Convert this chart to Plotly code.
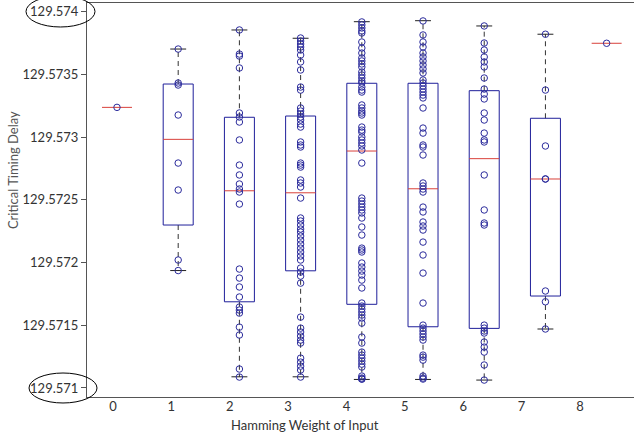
import plotly.graph_objects as go

# ---------------- data ----------------
categories = [0, 1, 2, 3, 4, 5, 6, 7, 8]
tick_labels = ["0", "1", "2", "3", "4", "5", "6", "7", "8"]
y_tick_vals = [129.571, 129.5715, 129.572, 129.5725, 129.573, 129.5735, 129.574]
y_tick_text = ["129.571", "129.5715", "129.572", "129.5725", "129.573", "129.5735", "129.574"]

# box statistics (single-sample groups have q1 = q3 = median)
q1_vals  = [129.573237, 129.572299, 129.571687, 129.571934, 129.571667, 129.571488, 129.571475, 129.571733, 129.573748]
med_vals = [129.573237, 129.572982, 129.572572, 129.572556, 129.572889, 129.572588, 129.572828, 129.572666, 129.573748]
q3_vals  = [129.573237, 129.573423, 129.573158, 129.573168, 129.573429, 129.573429, 129.573370, 129.573150, 129.573748]
lo_vals  = [129.573237, 129.571936, 129.571089, 129.571089, 129.571068, 129.571068, 129.571063, 129.571470, 129.573748]
hi_vals  = [129.573237, 129.573702, 129.573854, 129.573788, 129.573920, 129.573928, 129.573886, 129.573820, 129.573748]

g0 = [129.573237]
g1 = [129.573702, 129.573431, 129.573415, 129.573176, 129.572793, 129.572578, 129.572020, 129.571936]
g2 = [129.573854, 129.573662, 129.573646, 129.573551, 129.573192, 129.573160, 129.573120, 129.572977,
      129.572777, 129.572698, 129.572626, 129.572586, 129.572562, 129.572466, 129.571948, 129.571876,
      129.571805, 129.571725, 129.571645, 129.571621, 129.571597, 129.571485, 129.571422, 129.571151,
      129.571087]
g3 = [129.573790, 129.573766, 129.573742, 129.573718, 129.573694, 129.573654, 129.573599, 129.573535,
      129.573399, 129.573375, 129.573232, 129.573208, 129.573184, 129.573160, 129.573136, 129.573104,
      129.573080, 129.572961, 129.572937, 129.572921, 129.572793, 129.572777, 129.572761, 129.572658,
      129.572634, 129.572602, 129.572514, 129.572355, 129.572331, 129.572299, 129.572267, 129.572243,
      129.572211, 129.572179, 129.572147, 129.572115, 129.572084, 129.572052, 129.572020, 129.571956,
      129.571924, 129.571892, 129.571836, 129.571565, 129.571477, 129.571446, 129.571414, 129.571382,
      129.571358, 129.571238, 129.571206, 129.571174, 129.571143, 129.571087]
g4 = [129.573918, 129.573894, 129.573870, 129.573846, 129.573830, 129.573758, 129.573710, 129.573670,
      129.573631, 129.573607, 129.573583, 129.573559, 129.573519, 129.573495, 129.573471, 129.573447,
      129.573431, 129.573399, 129.573375, 129.573359, 129.573256, 129.573232, 129.573208, 129.573192,
      129.573176, 129.573080, 129.573056, 129.573040, 129.573001, 129.572977, 129.572953, 129.572929,
      129.572897, 129.572793, 129.572514, 129.572490, 129.572466, 129.572442, 129.572419, 129.572395,
      129.572355, 129.572283, 129.572219, 129.572115, 129.572100, 129.572084, 129.571996, 129.571964,
      129.571932, 129.571900, 129.571860, 129.571797, 129.571677, 129.571653, 129.571629, 129.571605,
      129.571581, 129.571557, 129.571517, 129.571406, 129.571358, 129.571286, 129.571262, 129.571238,
      129.571214, 129.571190, 129.571167, 129.571095, 129.571079, 129.571071, 129.571071]
g5 = [129.573926, 129.573814, 129.573758, 129.573718, 129.573670, 129.573639, 129.573607, 129.573575,
      129.573543, 129.573511, 129.573455, 129.573431, 129.573407, 129.573383, 129.573359, 129.573335,
      129.573312, 129.573232, 129.573072, 129.573032, 129.572937, 129.572921, 129.572857, 129.572634,
      129.572610, 129.572586, 129.572562, 129.572442, 129.572403, 129.572323, 129.572291, 129.572259,
      129.572163, 129.572060, 129.571916, 129.571677, 129.571501, 129.571477, 129.571454, 129.571430,
      129.571406, 129.571382, 129.571262, 129.571246, 129.571222, 129.571095, 129.571079, 129.571071]
g6 = [129.573886, 129.573750, 129.573694, 129.573639, 129.573599, 129.573559, 129.573471, 129.573383,
      129.573343, 129.573304, 129.573192, 129.573136, 129.573032, 129.572977, 129.572961, 129.572698,
      129.572419, 129.572315, 129.572299, 129.571501, 129.571477, 129.571454, 129.571438, 129.571366,
      129.571326, 129.571286, 129.571183, 129.571063]
g7 = [129.573820, 129.573375, 129.572929, 129.572666, 129.572666, 129.571773, 129.571687, 129.571470]
g8 = [129.573748]
groups = [g0, g1, g2, g3, g4, g5, g6, g7, g8]

# ---------------- styling ----------------
BOX_HALF = 0.245
CAP_HALF = 0.13
BOX_COLOR = "#1f1f9a"
MED_COLOR = "#d9403a"
PT_COLOR = "#2b2b9c"

box_x, box_y = [], []
med_x, med_y = [], []
wh_x, wh_y = [], []
cap_x, cap_y = [], []
for c, q1, md, q3, lo, hi in zip(categories, q1_vals, med_vals, q3_vals, lo_vals, hi_vals):
    med_x += [c - BOX_HALF, c + BOX_HALF, None]
    med_y += [md, md, None]
    if q3 > q1:
        box_x += [c - BOX_HALF, c + BOX_HALF, c + BOX_HALF, c - BOX_HALF, c - BOX_HALF, None]
        box_y += [q1, q1, q3, q3, q1, None]
        wh_x += [c, c, None, c, c, None]
        wh_y += [q3, hi, None, q1, lo, None]
        cap_x += [c - CAP_HALF, c + CAP_HALF, None, c - CAP_HALF, c + CAP_HALF, None]
        cap_y += [hi, hi, None, lo, lo, None]

pt_x, pt_y = [], []
for c, g in zip(categories, groups):
    pt_x += [c] * len(g)
    pt_y += g

fig = go.Figure()
fig.add_trace(go.Scatter(x=wh_x, y=wh_y, mode="lines",
                         line=dict(color="#333333", width=1, dash="5px,4px"), hoverinfo="skip"))
fig.add_trace(go.Scatter(x=cap_x, y=cap_y, mode="lines",
                         line=dict(color="#222222", width=1), hoverinfo="skip"))
fig.add_trace(go.Scatter(x=box_x, y=box_y, mode="lines",
                         line=dict(color=BOX_COLOR, width=1), hoverinfo="skip"))
fig.add_trace(go.Scatter(x=med_x, y=med_y, mode="lines",
                         line=dict(color=MED_COLOR, width=1), hoverinfo="skip"))
fig.add_trace(go.Scatter(x=pt_x, y=pt_y, mode="markers",
                         marker=dict(symbol="circle-open", size=6.5, color=PT_COLOR,
                                     line=dict(width=1, color=PT_COLOR))))

FONT = "Lato, 'Open Sans', sans-serif"

fig.update_layout(
    width=634, height=448,
    margin=dict(l=87, r=0, t=3, b=51),
    paper_bgcolor="white", plot_bgcolor="white",
    showlegend=False,
    font=dict(family=FONT, size=13, color="#333333"),
    xaxis=dict(range=[-0.490, 8.447], showgrid=False, zeroline=False,
               showticklabels=False, ticks="",
               showline=True, linecolor="#555555", linewidth=1, mirror=True),
    xaxis2=dict(overlaying="x", anchor="y", side="bottom",
                range=[-0.4454, 8.925], showgrid=False, zeroline=False, showline=False,
                tickmode="array", tickvals=categories, ticktext=tick_labels, ticks="",
                tickfont=dict(family=FONT, size=13, color="#333333")),
    yaxis=dict(range=[129.570928, 129.574069], showgrid=False, zeroline=False,
               tickmode="array", tickvals=y_tick_vals, ticktext=y_tick_text,
               ticks="outside", ticklen=5, tickcolor="#555555",
               showline=True, linecolor="#555555", linewidth=1, mirror=False,
               tickfont=dict(family=FONT, size=13, color="#333333")),
    annotations=[
        dict(text="Hamming Weight of Input", xref="paper", yref="paper",
             x=0.3985, y=-0.0711, xanchor="center", yanchor="middle", showarrow=False,
             font=dict(family=FONT, size=13, color="#333333")),
        dict(text="Critical Timing Delay", xref="paper", yref="paper",
             x=-0.1353, y=0.576, xanchor="center", yanchor="middle",
             textangle=-90, showarrow=False,
             font=dict(family=FONT, size=13, color="#555555")),
    ],
    shapes=[
        dict(type="circle", xref="paper", yref="paper",
             x0=-0.1115, x1=0.0146, y0=0.9391, y1=1.0178,
             line=dict(color="black", width=1)),
        dict(type="circle", xref="paper", yref="paper",
             x0=-0.106, x1=0.0183, y0=-0.0152, y1=0.0609,
             line=dict(color="black", width=1)),
    ],
)
# invisible trace on xaxis2 so its tick labels are rendered
fig.add_trace(go.Scatter(x=[0], y=[129.573], xaxis="x2", mode="markers",
                         marker=dict(opacity=0), hoverinfo="skip"))

fig.write_html("out.html")
